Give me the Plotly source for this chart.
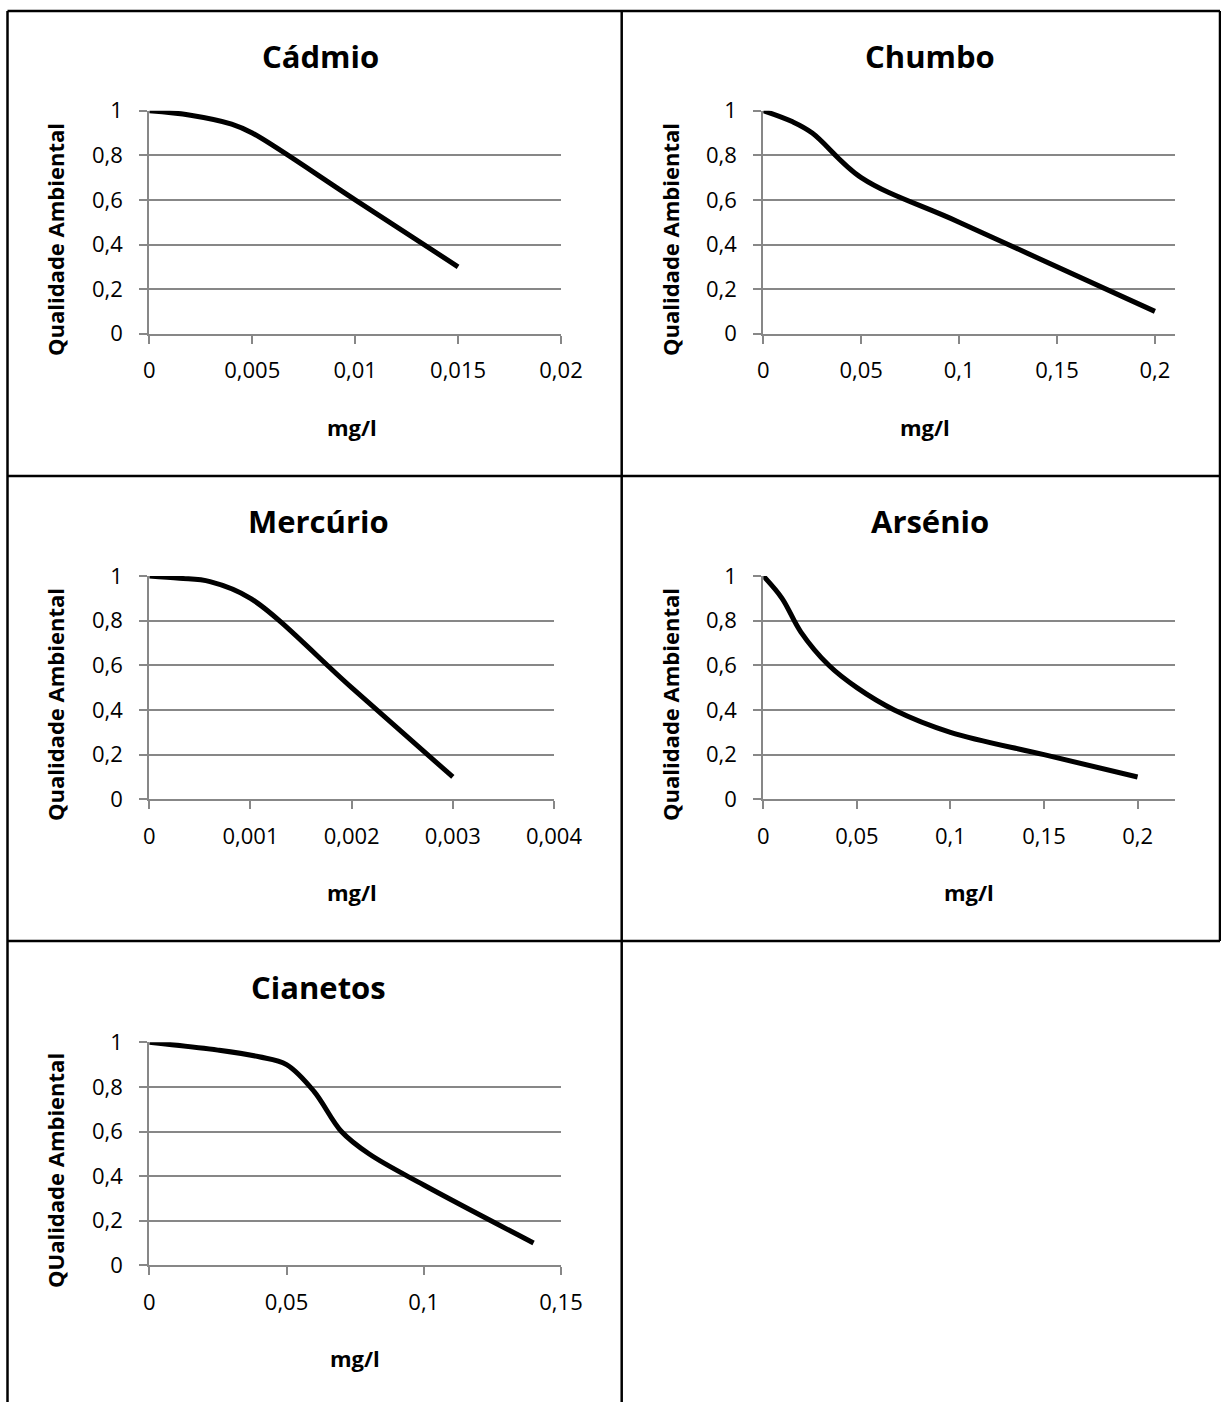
import plotly.graph_objects as go

# ---- data -------------------------------------------------------------
cadmio_x = [0, 0.002, 0.004, 0.005, 0.01, 0.015]
cadmio_y = [1, 0.98, 0.94, 0.9, 0.6, 0.3]

chumbo_x = [0, 0.015, 0.025, 0.05, 0.1, 0.2]
chumbo_y = [1, 0.95, 0.9, 0.7, 0.5, 0.1]

mercurio_x = [0, 0.0003, 0.0006, 0.001, 0.002, 0.003]
mercurio_y = [1, 0.99, 0.975, 0.9, 0.5, 0.1]

arsenio_x = [0, 0.01, 0.02, 0.035, 0.05, 0.07, 0.1, 0.15, 0.2]
arsenio_y = [1, 0.9, 0.75, 0.6, 0.5, 0.4, 0.3, 0.2, 0.1]

cianetos_x = [0, 0.025, 0.04, 0.05, 0.06, 0.07, 0.08, 0.1, 0.14]
cianetos_y = [1, 0.965, 0.935, 0.9, 0.78, 0.6, 0.5, 0.36, 0.1]

# tick values / labels
y_ticks = [0, 0.2, 0.4, 0.6, 0.8, 1]
y_labels = ["0", "0,2", "0,4", "0,6", "0,8", "1"]
cadmio_ticks = [0, 0.005, 0.01, 0.015, 0.02]
cadmio_labels = ["0", "0,005", "0,01", "0,015", "0,02"]
chumbo_ticks = [0, 0.05, 0.1, 0.15, 0.2]
chumbo_labels = ["0", "0,05", "0,1", "0,15", "0,2"]
mercurio_ticks = [0, 0.001, 0.002, 0.003, 0.004]
mercurio_labels = ["0", "0,001", "0,002", "0,003", "0,004"]
arsenio_ticks = [0, 0.05, 0.1, 0.15, 0.2]
arsenio_labels = ["0", "0,05", "0,1", "0,15", "0,2"]
cianetos_ticks = [0, 0.05, 0.1, 0.15]
cianetos_labels = ["0", "0,05", "0,1", "0,15"]

titles = ["Cádmio", "Chumbo", "Mercúrio", "Arsénio", "Cianetos"]
y_titles = ["Qualidade Ambiental", "Qualidade Ambiental", "Qualidade Ambiental",
            "Qualidade Ambiental", "QUalidade Ambiental"]
x_title = "mg/l"

# ---- layout helpers ---------------------------------------------------
W, H = 1221, 1402
FONT = "Open Sans"
GRID = "#878787"


def px_x(v):
    return v / W


def px_y(v):
    return 1 - v / H


# plot-area boxes in pixels: (left, right, top, bottom), x range max
panels = [
    dict(x=cadmio_x, y=cadmio_y, ticks=cadmio_ticks, labels=cadmio_labels,
         box=(149.3, 561, 110.7, 333.7), xmax=0.02,
         title_xy=(320, 56), ytitle_xy=(55, 240), xtitle_xy=(352, 427)),
    dict(x=chumbo_x, y=chumbo_y, ticks=chumbo_ticks, labels=chumbo_labels,
         box=(763.3, 1174.5, 110.7, 333.7), xmax=0.21,
         title_xy=(930, 56), ytitle_xy=(670, 240), xtitle_xy=(925, 427)),
    dict(x=mercurio_x, y=mercurio_y, ticks=mercurio_ticks, labels=mercurio_labels,
         box=(149.3, 554, 576, 799.3), xmax=0.004,
         title_xy=(318, 521), ytitle_xy=(55, 705), xtitle_xy=(352, 892)),
    dict(x=arsenio_x, y=arsenio_y, ticks=arsenio_ticks, labels=arsenio_labels,
         box=(763.3, 1175, 576, 799.3), xmax=0.22,
         title_xy=(930, 521), ytitle_xy=(670, 705), xtitle_xy=(969, 892)),
    dict(x=cianetos_x, y=cianetos_y, ticks=cianetos_ticks, labels=cianetos_labels,
         box=(149.3, 561, 1042.3, 1265.3), xmax=0.15,
         title_xy=(318, 987), ytitle_xy=(55, 1171), xtitle_xy=(355, 1358)),
]

fig = go.Figure()
layout = dict(
    width=W, height=H,
    margin=dict(l=0, r=0, t=0, b=0, pad=0, autoexpand=False),
    paper_bgcolor="white", plot_bgcolor="white",
    showlegend=False,
    font=dict(family=FONT, color="black"),
)
annotations = []

for i, p in enumerate(panels, start=1):
    suffix = "" if i == 1 else str(i)
    fig.add_trace(go.Scatter(
        x=p["x"], y=p["y"], mode="lines",
        line=dict(color="black", width=5, shape="spline", smoothing=1),
        xaxis="x" + suffix, yaxis="y" + suffix, hoverinfo="skip",
    ))
    left, right, top, bottom = p["box"]
    layout["xaxis" + suffix] = dict(
        domain=[px_x(left), px_x(right)], anchor="y" + suffix,
        range=[0, p["xmax"]], tickmode="array",
        tickvals=p["ticks"], ticktext=p["labels"],
        showgrid=False, zeroline=False, automargin=False,
        showline=True, linecolor=GRID, linewidth=2,
        ticks="outside", ticklen=8, tickwidth=2, tickcolor=GRID,
        tickfont=dict(family=FONT, size=22, color="black"),
        ticklabelstandoff=8, fixedrange=True,
    )
    layout["yaxis" + suffix] = dict(
        domain=[px_y(bottom), px_y(top)], anchor="x" + suffix,
        range=[0, 1], tickmode="array",
        tickvals=y_ticks, ticktext=y_labels,
        showgrid=True, gridcolor=GRID, gridwidth=2, zeroline=False,
        automargin=False,
        showline=True, linecolor=GRID, linewidth=2,
        ticks="outside", ticklen=8, tickwidth=2, tickcolor=GRID,
        tickfont=dict(family=FONT, size=22, color="black"),
        ticklabelstandoff=12, fixedrange=True,
    )
    tx, ty = p["title_xy"]
    annotations.append(dict(
        text="<b>%s</b>" % titles[i - 1], x=px_x(tx), y=px_y(ty),
        xref="paper", yref="paper", showarrow=False,
        xanchor="center", yanchor="middle",
        font=dict(family=FONT, size=31, color="black"),
    ))
    yx, yy = p["ytitle_xy"]
    annotations.append(dict(
        text="<b>%s</b>" % y_titles[i - 1], x=px_x(yx), y=px_y(yy),
        xref="paper", yref="paper", showarrow=False, textangle=-90,
        xanchor="center", yanchor="middle",
        font=dict(family=FONT, size=22, color="black"),
    ))
    xx, xy = p["xtitle_xy"]
    annotations.append(dict(
        text="<b>%s</b>" % x_title, x=px_x(xx), y=px_y(xy),
        xref="paper", yref="paper", showarrow=False,
        xanchor="center", yanchor="middle",
        font=dict(family=FONT, size=22, color="black"),
    ))

# table-style cell borders around the charts
BORDER = dict(color="black", width=2.5)
L, R, MID = 7.5, 1220, 621.7
TOP, ROW1, ROW2 = 11, 476, 941
shapes = [
    dict(type="line", x0=px_x(L), x1=px_x(R), y0=px_y(TOP), y1=px_y(TOP)),
    dict(type="line", x0=px_x(L), x1=px_x(R), y0=px_y(ROW1), y1=px_y(ROW1)),
    dict(type="line", x0=px_x(L), x1=px_x(R), y0=px_y(ROW2), y1=px_y(ROW2)),
    dict(type="line", x0=px_x(L), x1=px_x(L), y0=px_y(TOP), y1=0),
    dict(type="line", x0=px_x(MID), x1=px_x(MID), y0=px_y(TOP), y1=0),
    dict(type="line", x0=px_x(R), x1=px_x(R), y0=px_y(TOP), y1=px_y(ROW2)),
]
for s in shapes:
    s.update(xref="paper", yref="paper", line=BORDER, layer="above")

layout["annotations"] = annotations
layout["shapes"] = shapes
fig.update_layout(**layout)

fig.write_html("out.html", config={"displayModeBar": False})
